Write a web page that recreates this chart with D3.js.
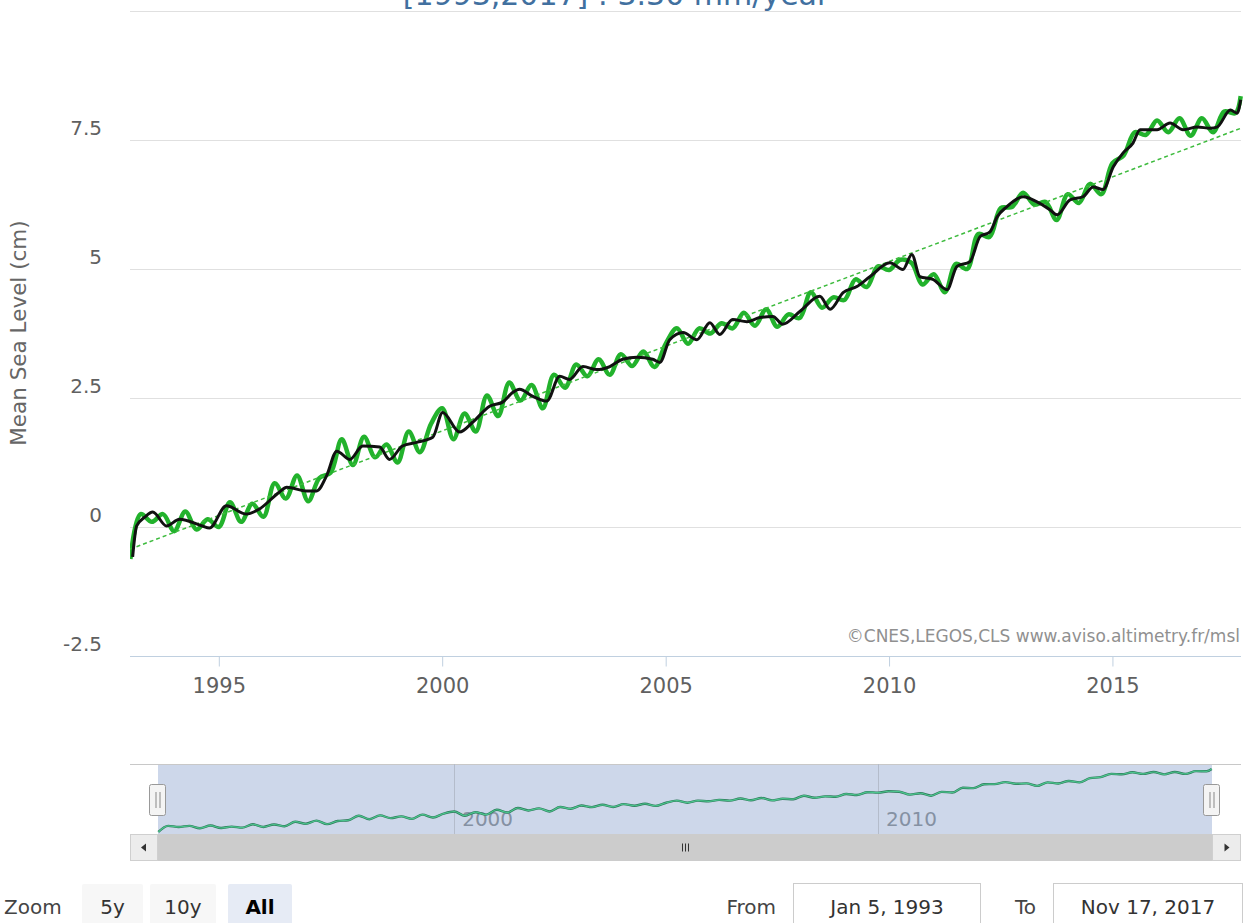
<!DOCTYPE html>
<html><head><meta charset="utf-8">
<script src="https://cdn.jsdelivr.net/npm/d3@7"></script>
<style>
body{margin:0;background:#fff;overflow:hidden}
svg{display:block;font-family:"DejaVu Sans",sans-serif}
</style></head><body>
<svg id="c" width="1248" height="923"></svg>
<script>
// ---------- data ----------
const titleText = "[1993,2017] : 3.30 mm/year";
const yAxisTitle = "Mean Sea Level (cm)";
const creditText = "©CNES,LEGOS,CLS www.aviso.altimetry.fr/msl";
const yTicks = [-2.5, 0, 2.5, 5, 7.5, 10];
const yTickLabels = ["-2.5", "0", "2.5", "5", "7.5", ""];
const xTickYears = [1995, 2000, 2005, 2010, 2015];
const navTickYears = [2000, 2010];
const rangeStart = [1993, 0, 5];
const rangeEnd = [2017, 10, 17];
const zoomButtons = ["5y", "10y", "All"];
const zoomLabel = "Zoom";
const fromText = "From", toText = "To";
const fromValue = "Jan 5, 1993", toValue = "Nov 17, 2017";

// smoothed (black) series: decimal years / cm
const smoothYears = [1993.07,1993.16,1993.34,1993.52,1993.83,1994.12,1994.63,1994.79,1995.17,1995.62,
  1995.91,1996.36,1996.52,1996.96,1997.19,1997.41,1997.64,1997.93,1998.22,1998.60,
  1998.82,1999.11,1999.43,1999.79,2000.01,2000.39,2000.68,2001.06,2001.35,2001.58,
  2001.73,2002.03,2002.34,2002.63,2002.85,2003.15,2003.46,2003.75,2004.04,2004.36,
  2004.71,2004.87,2005.09,2005.39,2005.70,2005.99,2006.21,2006.50,2006.82,2007.11,
  2007.40,2007.62,2008.01,2008.45,2008.68,2008.97,2009.28,2009.57,2010.02,2010.31,
  2010.51,2010.69,2010.98,2011.30,2011.52,2011.81,2012.04,2012.26,2012.42,2012.64,
  2013.00,2013.31,2013.60,2013.76,2014.05,2014.34,2014.57,2014.79,2015.02,2015.24,
  2015.46,2015.62,2016.00,2016.29,2016.58,2016.90,2017.19,2017.34,2017.64,2017.79,2017.87];
const smoothValues = [-0.58,0.02,0.19,0.29,0.02,0.15,0.02,-0.02,0.41,0.25,
  0.35,0.68,0.77,0.70,0.70,0.99,1.47,1.31,1.57,1.55,
  1.31,1.57,1.64,1.74,2.22,1.84,2.03,2.34,2.42,2.61,
  2.67,2.53,2.44,2.92,2.86,3.11,3.05,3.11,3.25,3.29,
  3.25,3.19,3.63,3.77,3.63,3.96,3.73,4.02,3.98,4.06,
  4.08,3.93,4.18,4.47,4.22,4.54,4.66,4.85,5.12,4.99,
  5.28,4.85,4.80,4.60,5.05,5.14,5.63,5.72,6.01,6.21,
  6.40,6.30,6.15,6.05,6.34,6.40,6.59,6.54,6.98,7.25,
  7.44,7.70,7.70,7.83,7.70,7.75,7.73,7.75,8.08,8.02,8.28];

// raw (green) series
const rawYears = [1993.02,1993.25,1993.50,1993.75,1994.00,1994.25,1994.50,1994.75,
  1995.00,1995.25,1995.50,1995.75,1996.00,1996.25,1996.50,1996.75,
  1997.00,1997.25,1997.50,1997.75,1998.00,1998.25,1998.50,1998.75,
  1999.00,1999.25,1999.50,1999.75,2000.00,2000.25,2000.50,2000.75,
  2001.00,2001.25,2001.50,2001.75,2002.00,2002.25,2002.50,2002.75,
  2003.00,2003.25,2003.50,2003.75,2004.00,2004.25,2004.50,2004.75,
  2005.00,2005.25,2005.50,2005.75,2006.00,2006.25,2006.50,2006.75,
  2007.00,2007.25,2007.50,2007.75,2008.00,2008.25,2008.50,2008.75,
  2009.00,2009.25,2009.50,2009.75,2010.00,2010.25,2010.50,2010.75,
  2011.00,2011.25,2011.50,2011.75,2012.00,2012.25,2012.50,2012.75,
  2013.00,2013.25,2013.50,2013.75,2014.00,2014.25,2014.50,2014.75,
  2015.00,2015.25,2015.50,2015.75,2016.00,2016.25,2016.50,2016.75,
  2017.00,2017.25,2017.50,2017.75,2017.87];
const rawValues = [-0.62,0.25,0.10,0.25,-0.08,0.30,-0.05,0.15,
  0.00,0.48,0.10,0.45,0.20,0.85,0.55,1.00,
  0.50,0.95,1.05,1.70,1.20,1.75,1.35,1.60,
  1.25,1.85,1.45,2.00,2.30,1.70,2.20,1.85,
  2.55,2.15,2.80,2.45,2.75,2.30,2.95,2.70,
  3.15,2.92,3.25,2.95,3.35,3.12,3.40,3.10,
  3.55,3.85,3.55,3.85,3.75,3.95,3.85,4.15,
  3.90,4.22,3.88,4.12,4.05,4.55,4.25,4.45,
  4.40,4.80,4.65,5.05,4.98,5.18,5.12,4.70,
  4.90,4.55,5.10,5.00,5.68,5.62,6.18,6.20,
  6.48,6.25,6.30,5.95,6.45,6.28,6.65,6.45,
  7.05,7.20,7.65,7.60,7.88,7.65,7.92,7.58,
  7.92,7.65,8.05,8.02,8.35];

// linear trend (dashed)
const trendYears = [1993.01, 2017.88];
const trendValues = [-0.43, 7.73];

// ---------- helpers ----------
function yd(y) {
  const yr = Math.floor(y);
  const s = Date.UTC(yr, 0, 1), e = Date.UTC(yr + 1, 0, 1);
  return new Date(s + (y - yr) * (e - s));
}
function zip(xs, ys) { const n = Math.min(xs.length, ys.length); const r = []; for (let i = 0; i < n; i++) r.push({d: yd(xs[i]), v: ys[i]}); return r; }
const smooth = zip(smoothYears, smoothValues);
const raw = zip(rawYears, rawValues);
const trend = zip(trendYears, trendValues);

const svg = d3.select("#c");
const FONT = '"DejaVu Sans", sans-serif';

const x0 = new Date(Date.UTC(...rangeStart)), x1 = new Date(Date.UTC(...rangeEnd));
const plot = {l: 130, r: 1241, t: 11, b: 656};
const x = d3.scaleUtc().domain([x0, x1]).range([plot.l, plot.r]);
const y = d3.scaleLinear().domain([-2.5, 10]).range([plot.b, plot.t]);

// title (clipped at top in the reference)
svg.append("text").attr("x", 616).attr("y", 5).attr("text-anchor", "middle")
  .attr("font-size", 30).attr("fill", "#41709f").text(titleText);

// grid lines
const grid = svg.append("g");
grid.selectAll("line").data(yTicks.filter(t => t !== -2.5)).join("line")
  .attr("x1", plot.l).attr("x2", plot.r)
  .attr("y1", d => Math.round(y(d)) + 0.5).attr("y2", d => Math.round(y(d)) + 0.5)
  .attr("stroke", "#e0e0e0").attr("stroke-width", 1);

// y labels
svg.append("g").selectAll("text").data(yTicks).join("text")
  .attr("x", 102).attr("y", d => y(d) - 5).attr("text-anchor", "end")
  .attr("font-size", 20).attr("fill", "#606060")
  .text((d, i) => yTickLabels[i]);

// y title
svg.append("text").attr("transform", "translate(26,333) rotate(-90)")
  .attr("text-anchor", "middle").attr("font-size", 21.5).attr("fill", "#666")
  .text(yAxisTitle);

// x axis
const xAxis = d3.axisBottom(x).tickValues(xTickYears.map(v => yd(v)))
  .tickSize(10).tickFormat(d3.utcFormat("%Y"));
const gx = svg.append("g").attr("transform", `translate(0,${plot.b + 0.5})`).call(xAxis);
gx.select(".domain").attr("stroke", "#c0d0e0").attr("d", `M${plot.l},0H${plot.r}`);
gx.selectAll(".tick line").attr("stroke", "#c0d0e0");
gx.selectAll(".tick text").attr("font-family", FONT).attr("font-size", 21)
  .attr("fill", "#606060").attr("dy", null).attr("y", 36);

// clip
svg.append("clipPath").attr("id", "clip").append("rect")
  .attr("x", plot.l).attr("y", plot.t - 5).attr("width", plot.r - plot.l + 3).attr("height", plot.b - plot.t + 5);
const pg = svg.append("g").attr("clip-path", "url(#clip)");

const lineMain = d3.line().x(d => x(d.d)).y(d => y(d.v));
pg.append("path").datum(raw).attr("d", lineMain.curve(d3.curveCatmullRom.alpha(0.5)))
  .attr("fill", "none").attr("stroke", "#22b22c").attr("stroke-width", 4.5)
  .attr("stroke-linejoin", "round");
pg.append("path").datum(trend).attr("d", d3.line().x(d => x(d.d)).y(d => y(d.v)))
  .attr("fill", "none").attr("stroke", "#3dbb3d").attr("stroke-width", 1.5)
  .attr("stroke-dasharray", "4,3");
pg.append("path").datum(smooth).attr("d", d3.line().x(d => x(d.d)).y(d => y(d.v)).curve(d3.curveMonotoneX))
  .attr("fill", "none").attr("stroke", "#111").attr("stroke-width", 3)
  .attr("stroke-linejoin", "round");

// credits
svg.append("text").attr("x", 1240).attr("y", 642).attr("text-anchor", "end")
  .attr("font-size", 17).attr("fill", "#909090").text(creditText);

// ---------- navigator ----------
const nav = {l: 158, r: 1212, t: 764, b: 834};
const nx = d3.scaleUtc().domain([x0, x1]).range([nav.l, nav.r]);
const nyExt = d3.extent(raw, d => d.v);
const ny = d3.scaleLinear().domain(nyExt).range([nav.b - 2, nav.t + 5]);

svg.append("rect").attr("x", nav.l).attr("y", nav.t).attr("width", nav.r - nav.l).attr("height", nav.b - nav.t)
  .attr("fill", "#cdd7ea");
svg.append("line").attr("x1", plot.l).attr("x2", plot.r).attr("y1", nav.t + 0.5).attr("y2", nav.t + 0.5)
  .attr("stroke", "#c8c8c8");
svg.append("g").selectAll("line").data(navTickYears).join("line")
  .attr("x1", d => Math.round(nx(yd(d))) + 0.5).attr("x2", d => Math.round(nx(yd(d))) + 0.5)
  .attr("y1", nav.t).attr("y2", nav.b).attr("stroke", "#b4bccb");
svg.append("g").selectAll("text").data(navTickYears).join("text")
  .attr("x", d => nx(yd(d)) + 8).attr("y", 826).attr("font-size", 20).attr("fill", "#8591a3")
  .text(d => d);
const navLine = d3.line().x(d => nx(d.d)).y(d => ny(d.v)).curve(d3.curveMonotoneX);
svg.append("path").datum(raw).attr("d", navLine).attr("fill", "none")
  .attr("stroke", "#2d7a5a").attr("stroke-width", 2.4);
svg.append("path").datum(raw).attr("d", navLine).attr("fill", "none")
  .attr("stroke", "#4cc58e").attr("stroke-width", 1.2);

// scrollbar
const sb = {t: 834, b: 861};
svg.append("rect").attr("x", plot.l).attr("y", sb.t).attr("width", plot.r - plot.l).attr("height", sb.b - sb.t)
  .attr("fill", "#cccccc");
[[plot.l, nav.l, -1], [nav.r, plot.r, 1]].forEach(([a, b, dir]) => {
  svg.append("rect").attr("x", a + 0.5).attr("y", sb.t + 0.5).attr("width", b - a - 1).attr("height", sb.b - sb.t - 1)
    .attr("fill", "#ececec").attr("stroke", "#cfcfcf");
  const cx = (a + b) / 2, cy = (sb.t + sb.b) / 2;
  svg.append("path").attr("d", dir < 0 ? `M${cx + 2},${cy - 4}L${cx - 3},${cy}L${cx + 2},${cy + 4}Z`
                                          : `M${cx - 2},${cy - 4}L${cx + 3},${cy}L${cx - 2},${cy + 4}Z`)
    .attr("fill", "#333");
});
const gripX = (nav.l + nav.r) / 2, gripY = (sb.t + sb.b) / 2;
[-3, 0, 3].forEach(o => svg.append("line").attr("x1", gripX + o + 0.5).attr("x2", gripX + o + 0.5)
  .attr("y1", gripY - 4).attr("y2", gripY + 4).attr("stroke", "#333"));

// handles
[nav.l, nav.r].forEach(cx => {
  svg.append("rect").attr("x", cx - 8.5).attr("y", 784.5).attr("width", 16).attr("height", 31).attr("rx", 2)
    .attr("fill", "#f4f4f4").attr("stroke", "#999");
  [-2, 2].forEach(o => svg.append("line").attr("x1", cx + o).attr("x2", cx + o)
    .attr("y1", 792).attr("y2", 808).attr("stroke", "#888"));
});

// ---------- range selector ----------
svg.append("text").attr("x", 4).attr("y", 914).attr("font-size", 20).attr("fill", "#444").text(zoomLabel);
const btnX = [82, 150, 228], btnW = [61, 66, 64];
zoomButtons.forEach((b, i) => {
  const sel = b === "All";
  svg.append("rect").attr("x", btnX[i]).attr("y", 884).attr("width", btnW[i]).attr("height", 45).attr("rx", 2)
    .attr("fill", sel ? "#e6ebf5" : "#f7f7f7");
  svg.append("text").attr("x", btnX[i] + btnW[i] / 2).attr("y", 914).attr("text-anchor", "middle")
    .attr("font-size", 20).attr("fill", sel ? "#000" : "#333").attr("font-weight", sel ? "bold" : "normal").text(b);
});
svg.append("text").attr("x", 776).attr("y", 914).attr("text-anchor", "end").attr("font-size", 20).attr("fill", "#444").text(fromText);
svg.append("rect").attr("x", 793.5).attr("y", 883.5).attr("width", 187).attr("height", 45).attr("fill", "#fff").attr("stroke", "#ccc");
svg.append("text").attr("x", 887).attr("y", 914).attr("text-anchor", "middle").attr("font-size", 20).attr("fill", "#333").text(fromValue);
svg.append("text").attr("x", 1036).attr("y", 914).attr("text-anchor", "end").attr("font-size", 20).attr("fill", "#444").text(toText);
svg.append("rect").attr("x", 1053.5).attr("y", 883.5).attr("width", 189).attr("height", 45).attr("fill", "#fff").attr("stroke", "#ccc");
svg.append("text").attr("x", 1148).attr("y", 914).attr("text-anchor", "middle").attr("font-size", 20).attr("fill", "#333").text(toValue);
</script>
</body></html>
